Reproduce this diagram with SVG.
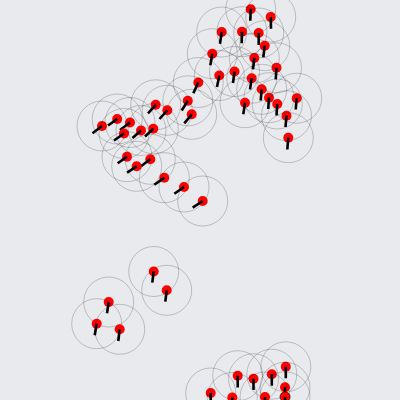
<svg xmlns="http://www.w3.org/2000/svg" width="400" height="400" viewBox="0 0 400 400">
<style>
.r{fill:none;stroke:#000;stroke-opacity:0.2;stroke-width:1}
.d{fill:#ff0000}
.v{stroke:#000;stroke-width:2.6;stroke-linecap:butt}
</style>
<rect width="400" height="400" fill="#e9eaee"/>
<g id="boid1"><circle class="r" cx="250.7" cy="9.3" r="25"/><circle class="d" cx="250.7" cy="9.3" r="5"/><line class="v" x1="250.7" y1="9.3" x2="250.3" y2="20.7"/></g>
<g id="boid2"><circle class="r" cx="270.7" cy="17" r="25"/><circle class="d" cx="270.7" cy="17" r="5"/><line class="v" x1="270.7" y1="17" x2="271" y2="28.7"/></g>
<g id="boid3"><circle class="r" cx="221.7" cy="32" r="25"/><circle class="d" cx="221.7" cy="32" r="5"/><line class="v" x1="221.7" y1="32" x2="220" y2="43.7"/></g>
<g id="boid4"><circle class="r" cx="242" cy="31.7" r="25"/><circle class="d" cx="242" cy="31.7" r="5"/><line class="v" x1="242" y1="31.7" x2="241.7" y2="43.3"/></g>
<g id="boid5"><circle class="r" cx="258.7" cy="33" r="25"/><circle class="d" cx="258.7" cy="33" r="5"/><line class="v" x1="258.7" y1="33" x2="258.7" y2="45"/></g>
<g id="boid6"><circle class="r" cx="264.7" cy="45.7" r="25"/><circle class="d" cx="264.7" cy="45.7" r="5"/><line class="v" x1="264.7" y1="45.7" x2="263.3" y2="57.3"/></g>
<g id="boid7"><circle class="r" cx="212.3" cy="53.7" r="25"/><circle class="d" cx="212.3" cy="53.7" r="5"/><line class="v" x1="212.3" y1="53.7" x2="210.3" y2="65.3"/></g>
<g id="boid8"><circle class="r" cx="254.3" cy="58" r="25"/><circle class="d" cx="254.3" cy="58" r="5"/><line class="v" x1="254.3" y1="58" x2="253" y2="69.3"/></g>
<g id="boid9"><circle class="r" cx="276.5" cy="67.8" r="25"/><circle class="d" cx="276.5" cy="67.8" r="5"/><line class="v" x1="276.5" y1="67.8" x2="275.7" y2="79.3"/></g>
<g id="boid10"><circle class="r" cx="234.5" cy="71.5" r="25"/><circle class="d" cx="234.5" cy="71.5" r="5"/><line class="v" x1="234.5" y1="71.5" x2="233" y2="83"/></g>
<g id="boid11"><circle class="r" cx="219.3" cy="75.5" r="25"/><circle class="d" cx="219.3" cy="75.5" r="5"/><line class="v" x1="219.3" y1="75.5" x2="217" y2="87"/></g>
<g id="boid12"><circle class="r" cx="251.7" cy="78.2" r="25"/><circle class="d" cx="251.7" cy="78.2" r="5"/><line class="v" x1="251.7" y1="78.2" x2="250" y2="89.5"/></g>
<g id="boid13"><circle class="r" cx="198.3" cy="82.5" r="25"/><circle class="d" cx="198.3" cy="82.5" r="5"/><line class="v" x1="198.3" y1="82.5" x2="193.3" y2="93.3"/></g>
<g id="boid14"><circle class="r" cx="261.7" cy="89.3" r="25"/><circle class="d" cx="261.7" cy="89.3" r="5"/><line class="v" x1="261.7" y1="89.3" x2="260.7" y2="100.5"/></g>
<g id="boid15"><circle class="r" cx="269" cy="97.7" r="25"/><circle class="d" cx="269" cy="97.7" r="5"/><line class="v" x1="269" y1="97.7" x2="268.2" y2="109"/></g>
<g id="boid16"><circle class="r" cx="296.7" cy="98.2" r="25"/><circle class="d" cx="296.7" cy="98.2" r="5"/><line class="v" x1="296.7" y1="98.2" x2="295.7" y2="109.5"/></g>
<g id="boid17"><circle class="r" cx="277.3" cy="104" r="25"/><circle class="d" cx="277.3" cy="104" r="5"/><line class="v" x1="277.3" y1="104" x2="276.5" y2="115.5"/></g>
<g id="boid18"><circle class="r" cx="245" cy="102.7" r="25"/><circle class="d" cx="245" cy="102.7" r="5"/><line class="v" x1="245" y1="102.7" x2="243.3" y2="114.2"/></g>
<g id="boid19"><circle class="r" cx="286.5" cy="115.7" r="25"/><circle class="d" cx="286.5" cy="115.7" r="5"/><line class="v" x1="286.5" y1="115.7" x2="285.5" y2="127"/></g>
<g id="boid20"><circle class="r" cx="288.3" cy="137.7" r="25"/><circle class="d" cx="288.3" cy="137.7" r="5"/><line class="v" x1="288.3" y1="137.7" x2="287.3" y2="149.5"/></g>
<g id="boid21"><circle class="r" cx="187.8" cy="100.8" r="25"/><circle class="d" cx="187.8" cy="100.8" r="5"/><line class="v" x1="187.8" y1="100.8" x2="181.7" y2="110.5"/></g>
<g id="boid22"><circle class="r" cx="191.7" cy="114.3" r="25"/><circle class="d" cx="191.7" cy="114.3" r="5"/><line class="v" x1="191.7" y1="114.3" x2="184.3" y2="123.3"/></g>
<g id="boid23"><circle class="r" cx="155.7" cy="104.8" r="25"/><circle class="d" cx="155.7" cy="104.8" r="5"/><line class="v" x1="155.7" y1="104.8" x2="148" y2="113.3"/></g>
<g id="boid24"><circle class="r" cx="167.3" cy="110.3" r="25"/><circle class="d" cx="167.3" cy="110.3" r="5"/><line class="v" x1="167.3" y1="110.3" x2="159.5" y2="119"/></g>
<g id="boid25"><circle class="r" cx="117.2" cy="119" r="25"/><circle class="d" cx="117.2" cy="119" r="5"/><line class="v" x1="117.2" y1="119" x2="108" y2="125.5"/></g>
<g id="boid26"><circle class="r" cx="102" cy="126" r="25"/><circle class="d" cx="102" cy="126" r="5"/><line class="v" x1="102" y1="126" x2="92.5" y2="133.2"/></g>
<g id="boid27"><circle class="r" cx="130" cy="122.5" r="25"/><circle class="d" cx="130" cy="122.5" r="5"/><line class="v" x1="130" y1="122.5" x2="120" y2="130"/></g>
<g id="boid28"><circle class="r" cx="124" cy="133.5" r="25"/><circle class="d" cx="124" cy="133.5" r="5"/><line class="v" x1="124" y1="133.5" x2="114" y2="140.5"/></g>
<g id="boid29"><circle class="r" cx="141" cy="130.5" r="25"/><circle class="d" cx="141" cy="130.5" r="5"/><line class="v" x1="141" y1="130.5" x2="132.5" y2="138"/></g>
<g id="boid30"><circle class="r" cx="153.3" cy="128.7" r="25"/><circle class="d" cx="153.3" cy="128.7" r="5"/><line class="v" x1="153.3" y1="128.7" x2="145" y2="136.5"/></g>
<g id="boid31"><circle class="r" cx="127" cy="156.7" r="25"/><circle class="d" cx="127" cy="156.7" r="5"/><line class="v" x1="127" y1="156.7" x2="117.7" y2="163.3"/></g>
<g id="boid32"><circle class="r" cx="150.3" cy="159.3" r="25"/><circle class="d" cx="150.3" cy="159.3" r="5"/><line class="v" x1="150.3" y1="159.3" x2="141" y2="166.3"/></g>
<g id="boid33"><circle class="r" cx="136.7" cy="166.3" r="25"/><circle class="d" cx="136.7" cy="166.3" r="5"/><line class="v" x1="136.7" y1="166.3" x2="127" y2="172.7"/></g>
<g id="boid34"><circle class="r" cx="164.3" cy="177.7" r="25"/><circle class="d" cx="164.3" cy="177.7" r="5"/><line class="v" x1="164.3" y1="177.7" x2="154.3" y2="184.7"/></g>
<g id="boid35"><circle class="r" cx="184" cy="187" r="25"/><circle class="d" cx="184" cy="187" r="5"/><line class="v" x1="184" y1="187" x2="174.3" y2="193.7"/></g>
<g id="boid36"><circle class="r" cx="202.7" cy="201" r="25"/><circle class="d" cx="202.7" cy="201" r="5"/><line class="v" x1="202.7" y1="201" x2="192.7" y2="207.7"/></g>
<g id="boid37"><circle class="r" cx="153.7" cy="271.5" r="25"/><circle class="d" cx="153.7" cy="271.5" r="5"/><line class="v" x1="153.7" y1="271.5" x2="152.3" y2="282.7"/></g>
<g id="boid38"><circle class="r" cx="166.7" cy="290.3" r="25"/><circle class="d" cx="166.7" cy="290.3" r="5"/><line class="v" x1="166.7" y1="290.3" x2="165.3" y2="301.7"/></g>
<g id="boid39"><circle class="r" cx="108.7" cy="302" r="25"/><circle class="d" cx="108.7" cy="302" r="5"/><line class="v" x1="108.7" y1="302" x2="107" y2="313.3"/></g>
<g id="boid40"><circle class="r" cx="96.7" cy="323.7" r="25"/><circle class="d" cx="96.7" cy="323.7" r="5"/><line class="v" x1="96.7" y1="323.7" x2="94.7" y2="335.3"/></g>
<g id="boid41"><circle class="r" cx="119.7" cy="329.3" r="25"/><circle class="d" cx="119.7" cy="329.3" r="5"/><line class="v" x1="119.7" y1="329.3" x2="118.3" y2="341"/></g>
<g id="boid42"><circle class="r" cx="237.7" cy="375.7" r="25"/><circle class="d" cx="237.7" cy="375.7" r="5"/><line class="v" x1="237.7" y1="375.7" x2="237.7" y2="387.5"/></g>
<g id="boid43"><circle class="r" cx="253.5" cy="378.7" r="25"/><circle class="d" cx="253.5" cy="378.7" r="5"/><line class="v" x1="253.5" y1="378.7" x2="253.5" y2="390"/></g>
<g id="boid44"><circle class="r" cx="271.8" cy="374.2" r="25"/><circle class="d" cx="271.8" cy="374.2" r="5"/><line class="v" x1="271.8" y1="374.2" x2="271.8" y2="385.7"/></g>
<g id="boid45"><circle class="r" cx="285.8" cy="366.8" r="25"/><circle class="d" cx="285.8" cy="366.8" r="5"/><line class="v" x1="285.8" y1="366.8" x2="285.8" y2="378.3"/></g>
<g id="boid46"><circle class="r" cx="285" cy="387.2" r="25"/><circle class="d" cx="285" cy="387.2" r="5"/><line class="v" x1="285" y1="387.2" x2="285" y2="398.5"/></g>
<g id="boid47"><circle class="r" cx="210.7" cy="393" r="25"/><circle class="d" cx="210.7" cy="393" r="5"/><line class="v" x1="210.7" y1="393" x2="210.7" y2="404.5"/></g>
<g id="boid48"><circle class="r" cx="232.3" cy="397.5" r="25"/><circle class="d" cx="232.3" cy="397.5" r="5"/><line class="v" x1="232.3" y1="397.5" x2="232.3" y2="409"/></g>
<g id="boid49"><circle class="r" cx="265" cy="397" r="25"/><circle class="d" cx="265" cy="397" r="5"/><line class="v" x1="265" y1="397" x2="265" y2="408.5"/></g>
<g id="boid50"><circle class="r" cx="285" cy="396.8" r="25"/><circle class="d" cx="285" cy="396.8" r="5" stroke="#000" stroke-opacity="0.6" stroke-width="1"/><line class="v" x1="285" y1="396.8" x2="285" y2="408.3"/></g>
</svg>
